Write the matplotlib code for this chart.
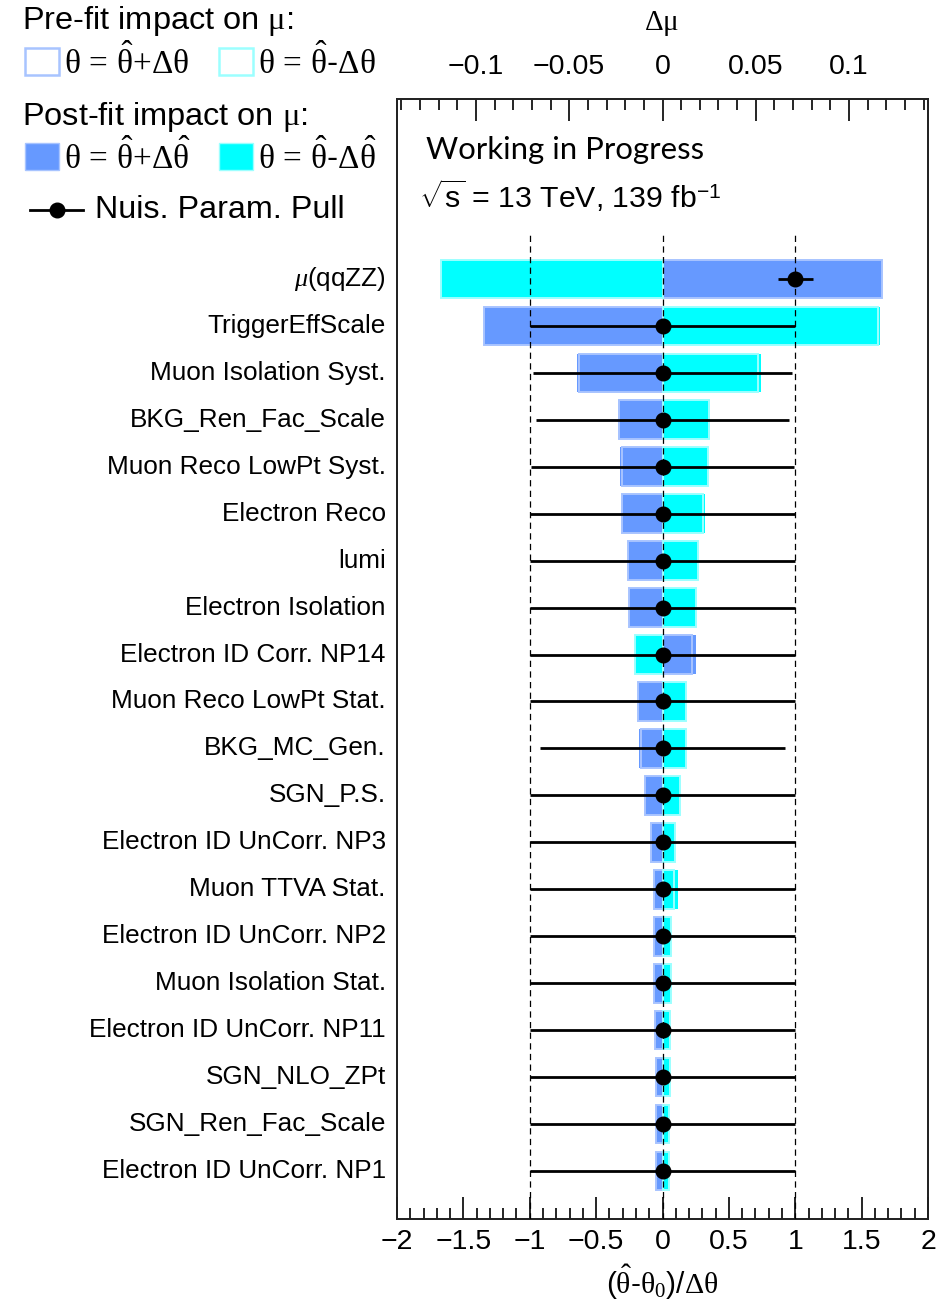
import numpy as np
import matplotlib
matplotlib.use("Agg")
import matplotlib.pyplot as plt
from matplotlib.patches import Rectangle
from matplotlib.lines import Line2D
from matplotlib.ticker import MultipleLocator, FuncFormatter

plt.rcParams["font.family"] = ["Liberation Sans", "DejaVu Sans"]
plt.rcParams["mathtext.fontset"] = "custom"
plt.rcParams["mathtext.rm"] = "Liberation Serif"
plt.rcParams["mathtext.it"] = "Liberation Serif:italic"
plt.rcParams["mathtext.sf"] = "Liberation Sans"
plt.rcParams["axes.unicode_minus"] = True

# ── ranking of nuisance parameters, highest impact first ─────────────────────
labels = [r"$\mu$(qqZZ)", "TriggerEffScale", "Muon Isolation Syst.", "BKG_Ren_Fac_Scale",
          "Muon Reco LowPt Syst.", "Electron Reco", "lumi", "Electron Isolation",
          "Electron ID Corr. NP14", "Muon Reco LowPt Stat.", "BKG_MC_Gen.", "SGN_P.S.",
          "Electron ID UnCorr. NP3", "Muon TTVA Stat.", "Electron ID UnCorr. NP2",
          "Muon Isolation Stat.", "Electron ID UnCorr. NP11", "SGN_NLO_ZPt",
          "SGN_Ren_Fac_Scale", "Electron ID UnCorr. NP1"]

# impact on mu (delta mu) for theta = theta_hat +/- delta theta_hat (post-fit)
impact_up_post = [0.1174, -0.0957, -0.0458, -0.0236, -0.0226, -0.0216, -0.0187, -0.0179,
                  0.0179, -0.0129, -0.0124, -0.0092, -0.0064, -0.0047, -0.0048, -0.0048,
                  -0.0041, -0.0037, -0.0037, -0.0037]
impact_dn_post = [-0.1188, 0.1167, 0.0529, 0.0253, 0.0242, 0.0227, 0.0189, 0.0179,
                  -0.0149, 0.0128, 0.0128, 0.0093, 0.0066, 0.0085, 0.0048, 0.0048,
                  0.0041, 0.0041, 0.0037, 0.0037]
# pre-fit impacts (theta = theta_hat +/- delta theta)
impact_up_pre = [0.1174, -0.0957, -0.0445, -0.0231, -0.0216, -0.0216, -0.0187, -0.0179,
                 0.0160, -0.0129, -0.0114, -0.0092, -0.0064, -0.0047, -0.0048, -0.0048,
                 -0.0041, -0.0037, -0.0037, -0.0037]
impact_dn_pre = [-0.1188, 0.1157, 0.0514, 0.0248, 0.0242, 0.0218, 0.0189, 0.0179,
                 -0.0149, 0.0128, 0.0128, 0.0093, 0.0066, 0.0064, 0.0048, 0.0048,
                 0.0041, 0.0041, 0.0037, 0.0037]

pull = [1.0, 0.0, 0.0, 0.0, 0.0, 0.0, 0.0, 0.0, 0.0, 0.0,
        0.0, 0.0, 0.0, 0.0, 0.0, 0.0, 0.0, 0.0, 0.0, 0.0]
pull_err = [0.13, 1.0, 0.975, 0.953, 0.99, 1.0, 1.0, 1.0, 1.0, 1.0,
            0.926, 1.0, 1.0, 1.0, 1.0, 1.0, 1.0, 1.0, 1.0, 1.0]

BLUE = "#6699ff"
CYAN = "#00ffff"
BLUE_PRE = "#a8c4ff"
CYAN_PRE = "#9cffff"

W, H = 936, 1305
fig = plt.figure(figsize=(W / 100, H / 100), dpi=100)


def fx(x):
    return x / W


def fy(y):
    return 1 - y / H


ax = fig.add_axes([fx(397), fy(1219), fx(928) - fx(397), fy(99) - fy(1219)])
axt = ax.twiny()
ax.set_zorder(2)
axt.set_zorder(1)
ax.patch.set_visible(False)

n = len(labels)
ypos = np.arange(n)[::-1]
bar_h = 0.82

# impact bars on the delta-mu scale
axt.barh(ypos, impact_up_post, height=bar_h, color=BLUE, lw=0, zorder=2)
axt.barh(ypos, impact_dn_post, height=bar_h, color=CYAN, lw=0, zorder=2)
axt.barh(ypos, impact_up_pre, height=bar_h, fill=False, edgecolor=BLUE_PRE, lw=1.4, zorder=3)
axt.barh(ypos, impact_dn_pre, height=bar_h, fill=False, edgecolor=CYAN_PRE, lw=1.4, zorder=3)

# pulls
ax.vlines([-1, 0, 1], -1.02, 19.98, colors="k", linestyles=(0, (5, 3.5)), lw=0.9, zorder=3)
ax.errorbar(pull, ypos, xerr=pull_err, fmt="o", color="k", ms=10.5,
            elinewidth=2, capsize=0, zorder=5)

ax.set_xlim(-2, 2)
axt.set_xlim(-0.1423, 0.1423)
ax.set_ylim(-1.02, 22.83)


def tick_fmt(v, _):
    if abs(v) < 1e-9:
        return "0"
    return f"{v:g}".replace("-", "\u2212")


ax.xaxis.set_major_locator(MultipleLocator(0.5))
ax.xaxis.set_minor_locator(MultipleLocator(0.1))
ax.xaxis.set_major_formatter(FuncFormatter(tick_fmt))
ax.tick_params(axis="x", which="both", direction="in", bottom=True, top=False,
               labelsize=20.5, pad=7, width=1.2)
ax.tick_params(axis="x", which="major", length=16)
ax.tick_params(axis="x", which="minor", length=8)
ax.tick_params(axis="y", left=False, right=False, labelleft=False)

axt.xaxis.set_major_locator(MultipleLocator(0.05))
axt.xaxis.set_minor_locator(MultipleLocator(0.01))
axt.xaxis.set_major_formatter(FuncFormatter(tick_fmt))
axt.tick_params(axis="x", which="both", direction="in", top=True, bottom=False,
                labeltop=True, labelbottom=False, labelsize=20.5, pad=14, width=1.2)
axt.tick_params(axis="x", which="major", length=16)
axt.tick_params(axis="x", which="minor", length=8)

for a in (ax, axt):
    for s in a.spines.values():
        s.set_linewidth(1.3)
        s.set_color("#222222")

for y, lab in zip(ypos, labels):
    ax.text(-0.021, y, lab, transform=ax.get_yaxis_transform(),
            ha="right", va="center", fontsize=18.8)

# axis titles
fig.text(fx(662), fy(24), r"$\mathrm{\Delta\mu}$", ha="center", va="center", fontsize=21)
fig.text(fx(662), fy(1282), r"($\mathrm{\hat{\theta}}$-$\mathrm{\theta_{0}}$)/$\mathrm{\Delta\theta}$",
         ha="center", va="center", fontsize=21.5)

# labels inside the frame
fig.text(fx(426), fy(150), "Working in Progress", family=["Lato", "DejaVu Sans"],
         ha="left", va="center", fontsize=22.4)
fig.text(fx(419), fy(196), r"$\sqrt{\mathsf{s}}$ = 13 TeV, 139 fb$^{\mathsf{-1}}$",
         ha="left", va="center", fontsize=21.8)

# legend block
leg_fs = 23.4
fig.text(fx(22), fy(21), r"Pre-fit impact on $\mathrm{\mu}$:", ha="left", va="center", fontsize=leg_fs)
fig.text(fx(22), fy(117), r"Post-fit impact on $\mathrm{\mu}$:", ha="left", va="center", fontsize=leg_fs)

box_w, box_h = 34, 27
entries = [
    (25, 48, BLUE_PRE, False, r"$\mathrm{\theta\,=\,\hat{\theta}{+}\Delta\theta}$"),
    (219, 48, CYAN_PRE, False, r"$\mathrm{\theta\,=\,\hat{\theta}}$-$\mathrm{\Delta\theta}$"),
    (25, 143, BLUE, True, r"$\mathrm{\theta\,=\,\hat{\theta}{+}\Delta\hat{\theta}}$"),
    (219, 143, CYAN, True, r"$\mathrm{\theta\,=\,\hat{\theta}}$-$\mathrm{\Delta\hat{\theta}}$"),
]
for x0, y0, col, filled, txt in entries:
    if filled:
        patch = Rectangle((fx(x0), fy(y0 + box_h)), box_w / W, box_h / H,
                          transform=fig.transFigure, facecolor=col,
                          edgecolor=BLUE_PRE if col == BLUE else CYAN_PRE, lw=1)
    else:
        patch = Rectangle((fx(x0), fy(y0 + box_h)), box_w / W, box_h / H,
                          transform=fig.transFigure, fill=False, edgecolor=col, lw=1.8)
    fig.add_artist(patch)
    fig.text(fx(x0 + 39), fy(y0 + 14), txt, ha="left", va="center", fontsize=24)

fig.add_artist(Line2D([fx(30), fx(83)], [fy(210), fy(210)], color="k", lw=2,
                      transform=fig.transFigure))
fig.add_artist(Line2D([fx(57)], [fy(210)], marker="o", ms=10.5, color="k",
                      transform=fig.transFigure))
fig.text(fx(95), fy(210), "Nuis. Param. Pull", ha="left", va="center", fontsize=23.2)

fig.savefig("out.png", dpi=100)
